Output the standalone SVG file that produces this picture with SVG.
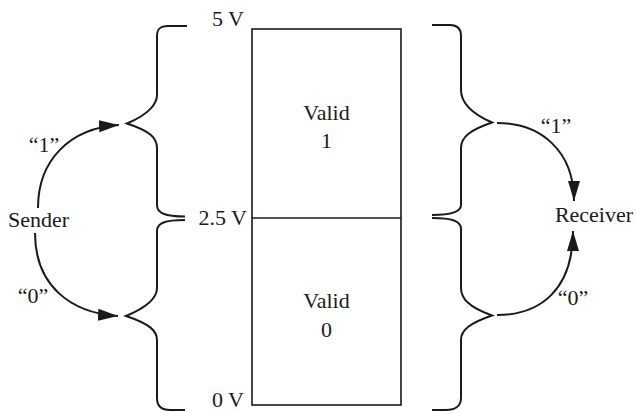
<svg xmlns="http://www.w3.org/2000/svg" width="636" height="413" viewBox="0 0 636 413">
<style>
text{font-family:"Liberation Serif","Times New Roman",serif;font-size:22px;fill:#1a1a1a}
.m{text-anchor:middle}
.e{text-anchor:end}
.br{fill:none;stroke:#1a1a1a;stroke-width:2}
.box{fill:none;stroke:#1a1a1a;stroke-width:1.6}
.ar{fill:none;stroke:#1a1a1a;stroke-width:2}
</style>
<defs>
<marker id="ah" markerUnits="userSpaceOnUse" markerWidth="22" markerHeight="14" refX="20" refY="6" orient="auto" viewBox="0 0 22 12">
<path d="M0,0 L20,6 L0,12 Z" fill="#1a1a1a"/>
</marker>
</defs>
<rect width="636" height="413" fill="#fff"/>
<g id="box">
<rect class="box" x="252" y="29" width="149" height="376"/>
<line class="box" x1="252" y1="218" x2="401" y2="218"/>
<text class="m" x="326.5" y="120">Valid</text>
<text class="m" x="326.5" y="148">1</text>
<text class="m" x="326.5" y="308">Valid</text>
<text class="m" x="326.5" y="337">0</text>
</g>
<g id="voltages">
<text class="e" x="244" y="26">5 V</text>
<text class="e" x="247" y="225">2.5 V</text>
<text class="e" x="244" y="407">0 V</text>
</g>
<g id="left-braces">
<path class="br" d="M187,26 L168,26 C160,26 157,29 157,36 L157,95 C157,103 150,114 127,123.5 C150,131 157,138 157,148 L157,205 C157,213 165,216.5 185,216.5"/>
<path class="br" d="M185,220 C165,220 157,223 157,231 L157,288 C157,297 150,306 126,316 C150,324 157,331 157,340 L157,398 C157,406 162,410 170,410 L185,410"/>
</g>
<g id="right-braces">
<path class="br" d="M432,25 L450,25 C458,25 461,29 461,36 L461,90 C461,100 468,112 492,122.5 C470,130 461,137 461,148 L461,205 C461,212 452,215 432,215"/>
<path class="br" d="M432,218 C452,218 461,221 461,229 L461,288 C461,298 468,307 492,315.5 C470,323 461,330 461,340 L461,398 C461,406 455,410 446,410 L432,410"/>
</g>
<g id="sender">
<text class="m" x="38.5" y="227">Sender</text>
</g>
<g id="receiver">
<text class="m" x="594" y="222">Receiver</text>
</g>
<g id="connectors">
<path class="ar" d="M38,208 C38,160 70,128 119,125" marker-end="url(#ah)"/>
<path class="ar" d="M35,233 C35,285 70,313 118,316" marker-end="url(#ah)"/>
<path class="ar" d="M497,123 C540,123 574,150 574,201" marker-end="url(#ah)"/>
<path class="ar" d="M497,315 C540,315 573,290 573,231" marker-end="url(#ah)"/>
<text class="m" x="44" y="152">“1”</text>
<text class="m" x="33" y="303">“0”</text>
<text class="m" x="556" y="133">“1”</text>
<text class="m" x="573" y="305">“0”</text>
</g>
</svg>
